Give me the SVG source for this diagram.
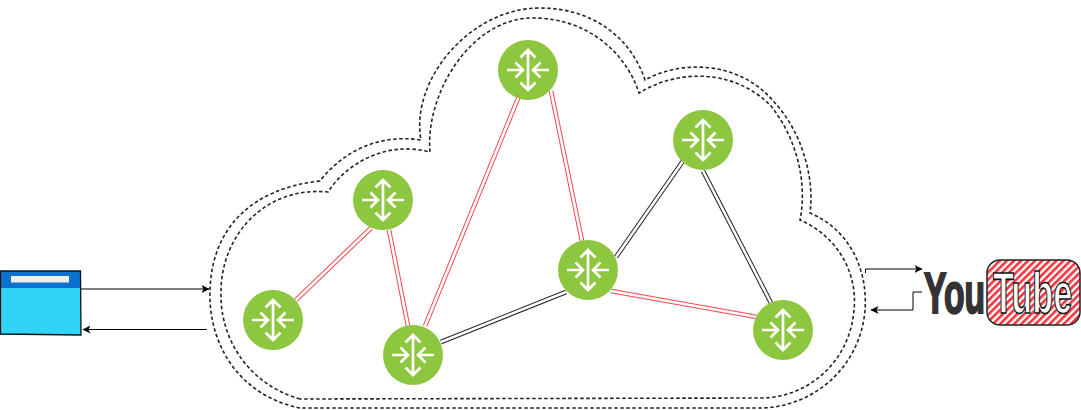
<svg xmlns="http://www.w3.org/2000/svg" width="1081" height="410" viewBox="0 0 1081 410">
<style>
.cloud{fill:none;stroke:#222;stroke-width:1.600;stroke-dasharray:3.500 2.500}
.la{stroke-width:4.600;fill:none}.lb{stroke:#fff;stroke-width:2.600;fill:none}
.red{stroke:#f4474f}.blk{stroke:#222}
.flow{fill:none;stroke:#000;stroke-width:1}
.disc{fill:#8dc63f}
.ico{fill:none;stroke:#fff;stroke-width:2.700}
.logo{font-family:"Liberation Sans",Arial,sans-serif;font-weight:700}
</style>
<defs>
<marker id="ah" markerWidth="9" markerHeight="9" refX="7.500" refY="4" orient="auto" markerUnits="userSpaceOnUse"><path d="M0 0L8 4L0 8L2 4Z" fill="#000"/></marker>
<pattern id="hatch" width="5" height="5" patternUnits="userSpaceOnUse" patternTransform="rotate(45)"><rect width="5" height="5" fill="#fff"/><rect width="2.600" height="5" fill="#f4333c"/></pattern>
<g id="router"><circle class="disc" r="30"/><path class="ico" d="M0-19V19M-7.500-12.500L0-20L7.500-12.500M-7.500 12.500L0 20L7.500 12.500M-21 0H-6.500M-12.500-7.500L-5 0L-12.500 7.500M21 0H6.500M12.500-7.500L5 0L12.500 7.500"/></g>
</defs>
<g id="cloud">
<path class="cloud" d="M300 408C240 396 208 345 210 290C212 225 255 188 320 181C340 155 375 133 421 140C410 80 470 8 540 8C590 8 630 35 645 80C680 60 740 60 775 103C800 130 815 175 810 213C850 230 868 270 865 310C860 370 810 408 760 408Z"/>
<path class="cloud" d="M300 399C250 385 219 340 221 290C222 235 265 186 328 192C345 165 385 140 430 152C425 95 470 18 533 18C585 18 625 50 639 93C680 68 735 70 770 105C795 135 808 180 800 220C835 235 858 270 854 310C850 360 810 398 760 398Z"/>
</g>
<g id="connectors">
<path class="la red" d="M296 300L371 228"/><path class="lb" d="M296 300L371 228"/>
<path class="la red" d="M389 230L408 326"/><path class="lb" d="M389 230L408 326"/>
<path class="la red" d="M425 326L519 96"/><path class="lb" d="M425 326L519 96"/>
<path class="la red" d="M551 91L582 241"/><path class="lb" d="M551 91L582 241"/>
<path class="la red" d="M611 291L757 317"/><path class="lb" d="M611 291L757 317"/>
<path class="la blk" d="M441 342L566 292"/><path class="lb" d="M441 342L566 292"/>
<path class="la blk" d="M616 257L683 161"/><path class="lb" d="M616 257L683 161"/>
<path class="la blk" d="M703 171L771 303"/><path class="lb" d="M703 171L771 303"/>
<path class="flow" marker-end="url(#ah)" d="M81 289H209"/>
<path class="flow" marker-end="url(#ah)" d="M207 329.500H83"/>
<path class="flow" marker-end="url(#ah)" d="M865.500 273V269H922"/>
<path class="flow" marker-end="url(#ah)" d="M922 292H913V310H871"/>
</g>
<g id="browser">
<rect x="0" y="271" width="81" height="64" fill="#30d4f7"/>
<rect x="0" y="271" width="81" height="17" fill="#0b72d0"/>
<rect x="11" y="276" width="58" height="6.500" fill="#eee"/>
<path d="M0.500 271H80.500L81 335L0.500 334Z" fill="none" stroke="#111" stroke-width="1.300"/>
</g>
<use id="r1" href="#router" x="273" y="320"/>
<use id="r2" href="#router" x="383" y="200"/>
<use id="r3" href="#router" x="413" y="355"/>
<use id="r4" href="#router" x="528" y="70"/>
<use id="r5" href="#router" x="588" y="270"/>
<use id="r6" href="#router" x="703" y="140"/>
<use id="r7" href="#router" x="783" y="330"/>
<g id="youtube">
<rect x="987" y="260" width="93" height="65" rx="13" fill="url(#hatch)" stroke="#222" stroke-width="1.500"/>
<text class="logo" transform="translate(924 312.500) scale(.58 1)" font-size="58" fill="#333" stroke="#333" stroke-width="2.200">You</text>
<text class="logo" transform="translate(993 312.500) scale(.59 1)" font-size="58" fill="#fff" stroke="#111" stroke-width="1.600">Tube</text>
</g>
</svg>
